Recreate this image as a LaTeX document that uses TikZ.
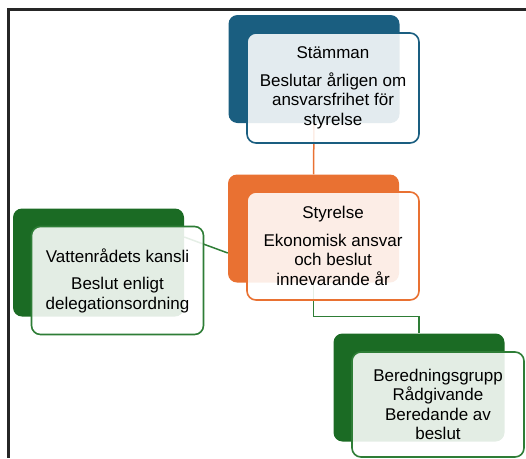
\documentclass[tikz,border=0pt]{standalone}
\usepackage{fontspec}
\setmainfont{Liberation Sans}
\usetikzlibrary{backgrounds}
\definecolor{stblue}{HTML}{1A5E80}
\definecolor{storange}{HTML}{E97132}
\definecolor{stgreen}{HTML}{1B6B24}
\definecolor{lngreen}{HTML}{2E7D36}
\tikzset{back/.style={rounded corners=9pt,minimum width=171pt,minimum height=108pt,inner sep=0pt},
front/.style={draw,rounded corners=9pt,fill=white,fill opacity=.88,text opacity=1,line width=1.6pt,minimum width=172pt,minimum height=108pt,align=center,inner sep=0pt,font=\fontsize{17}{19.5}\selectfont},
link/.style={line width=1.5pt}}

\begin{document}
\begin{tikzpicture}[x=1pt,y=1pt]
\useasboundingbox (0,0) rectangle (526,-458);
\draw[line width=2.4pt,black!85] (526,-9.5) -- (8.5,-9.5) -- (8.5,-458);

\node[back,fill=stblue] (a) at (314,-69) {};
\node[front,draw=stblue,minimum height=110pt] (b) at (333,-88) {Stämman\\[8pt]Beslutar årligen om\\ansvarsfrihet för\\styrelse};

\node[back,fill=storange] (c) at (313.5,-228.5) {};
\node[front,draw=storange] (d) at (333,-246) {Styrelse\\[8pt]Ekonomisk ansvar\\och beslut\\innevarande år};

\node[back,fill=stgreen] (e) at (98.5,-262.5) {};
\node[front,draw=lngreen] (f) at (117.5,-280.5) {Vattenrådets kansli\\[8pt]Beslut enligt\\delegationsordning};

\node[back,fill=stgreen] (g) at (419,-387.5) {};
\node[front,draw=lngreen,minimum height=105pt] (h) at (438,-404.5) {Beredningsgrupp\\Rådgivande\\Beredande av\\beslut};

\begin{scope}[on background layer]
\draw[link,storange] (a.south) -- (c.north);
\draw[link,lngreen] ([yshift=25.5pt]e.east) -- ([yshift=-24.5pt]c.west);
\draw[link,lngreen] (c.south) -- ++(0,-34) -| (g.north);
\end{scope}
\end{tikzpicture}
\end{document}
